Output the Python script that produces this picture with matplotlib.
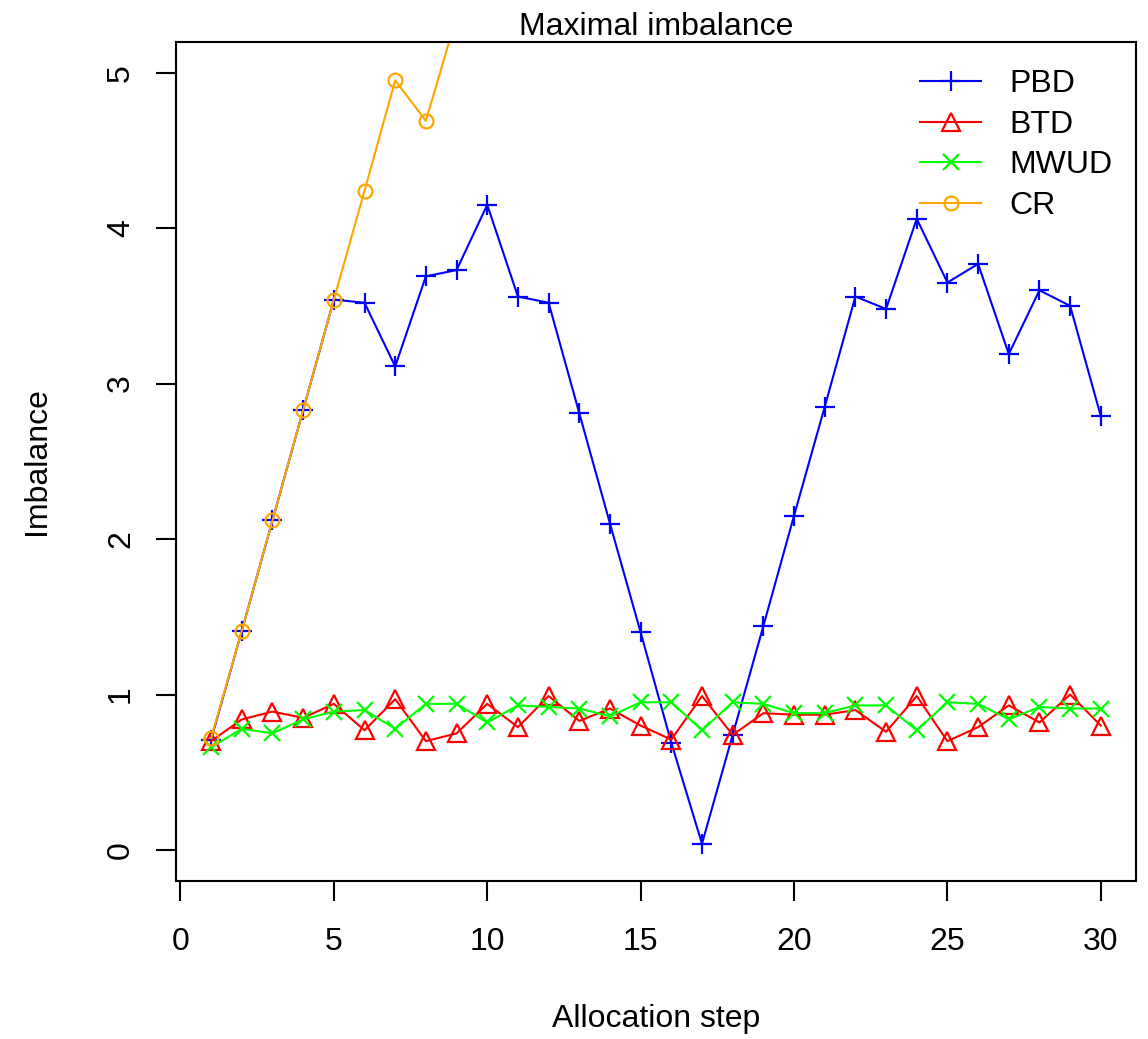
import matplotlib
matplotlib.use("Agg")
import matplotlib.pyplot as plt

# valores
steps = list(range(1, 31))

pbd = [0.71, 1.41, 2.12, 2.83, 3.54, 3.52, 3.11, 3.69, 3.73, 4.15,
       3.56, 3.52, 2.81, 2.10, 1.40, 0.69, 0.04, 0.74, 1.44, 2.15,
       2.85, 3.56, 3.48, 4.06, 3.65, 3.77, 3.19, 3.60, 3.50, 2.79]

btd = [0.70, 0.84, 0.89, 0.85, 0.94, 0.77, 0.97, 0.70, 0.75, 0.94,
       0.79, 0.99, 0.83, 0.91, 0.80, 0.71, 0.99, 0.74, 0.88, 0.87,
       0.87, 0.90, 0.76, 0.99, 0.70, 0.79, 0.93, 0.82, 1.00, 0.80]

mwud = [0.66, 0.78, 0.75, 0.84, 0.89, 0.90, 0.78, 0.94, 0.94, 0.82,
        0.93, 0.92, 0.91, 0.86, 0.95, 0.95, 0.77, 0.95, 0.94, 0.88,
        0.88, 0.93, 0.93, 0.77, 0.95, 0.94, 0.84, 0.92, 0.91, 0.91]

cr_steps = list(range(1, 10))
cr = [0.72, 1.41, 2.12, 2.83, 3.54, 4.24, 4.95, 4.69, 5.36]

plt.rcParams["font.family"] = ["Liberation Sans", "DejaVu Sans"]
plt.rcParams["font.size"] = 23

fig = plt.figure(figsize=(11.48, 10.39), dpi=100)
ax = fig.add_axes([0.1529, 0.152, 0.837, 0.808])

lw = 1.5
ax.plot(steps, pbd, color="#0000FF", marker="+", markersize=15, mew=1.6, lw=lw, label="PBD")
ax.plot(steps, btd, color="#FF0000", marker="^", markersize=13, mew=1.6, mfc="none", lw=lw, label="BTD")
ax.plot(steps, mwud, color="#00FF00", marker="x", markersize=11, mew=1.6, lw=lw, label="MWUD")
ax.plot(cr_steps, cr, color="#FFA500", marker="o", markersize=10, mew=1.6, mfc="none", lw=lw, label="CR")

ax.set_xlim(-0.16, 31.16)
ax.set_ylim(-0.2, 5.2)
ax.set_xticks([0, 5, 10, 15, 20, 25, 30])
ax.set_yticks([0, 1, 2, 3, 4, 5])

for s in ax.spines.values():
    s.set_linewidth(1.5)
ax.tick_params(length=14.4, width=1.5, direction="out")
ax.tick_params(axis="x", pad=19)
ax.tick_params(axis="y", pad=14)
for t in ax.get_yticklabels():
    t.set_rotation(90)
    t.set_va("center")

ax.set_title("Maximal imbalance", fontsize=23, pad=4)
ax.set_xlabel("Allocation step")
ax.set_ylabel("Imbalance")
ax.xaxis.set_label_coords(0.5, -0.147)
ax.yaxis.set_label_coords(-0.129, 0.5)

ax.legend(loc="upper left", bbox_to_anchor=(0.775, 0.967), frameon=False,
          handlelength=1.9, handletextpad=0.9, labelspacing=0.33, borderpad=0,
          borderaxespad=0)

fig.savefig("out.png", dpi=100)
